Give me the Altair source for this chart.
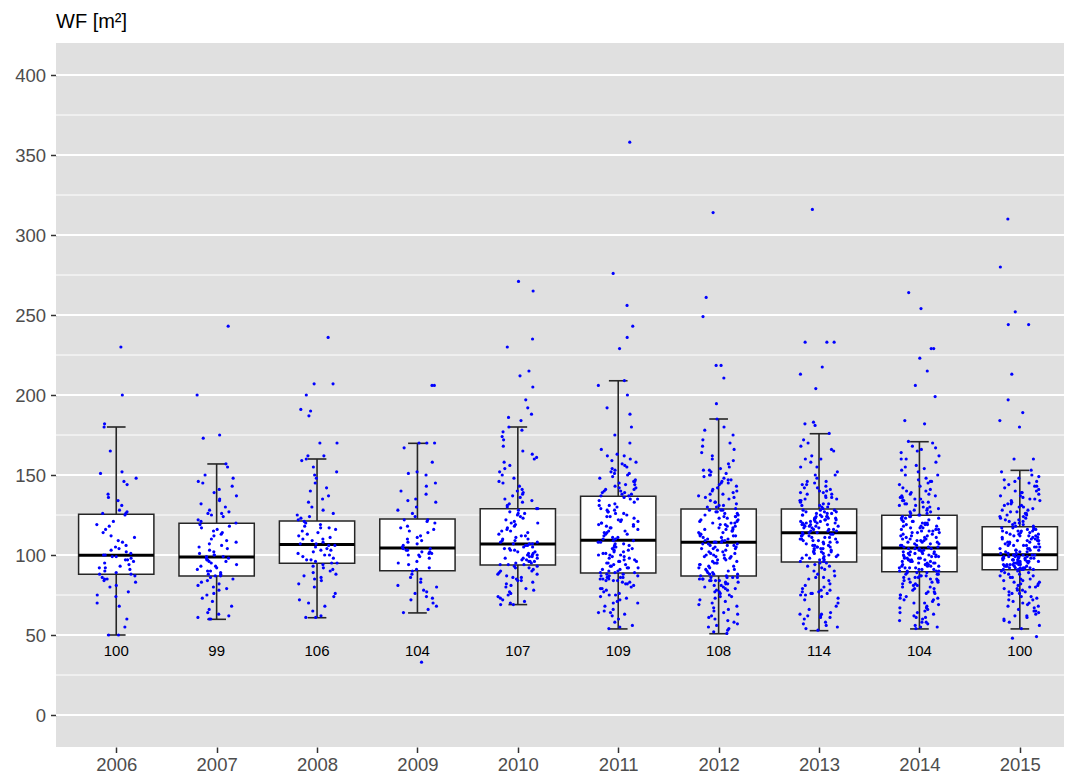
import altair as alt
import pandas as pd

# ---------------- data ----------------
years = [2006, 2007, 2008, 2009, 2010, 2011, 2012, 2013, 2014, 2015]

# box statistics (ggplot style: whiskers = furthest points inside 1.5 IQR)
box_q1 = [87.9, 86.9, 94.8, 90.2, 93.8, 88.8, 86.9, 95.6, 89.6, 90.8]
box_median = [99.8, 98.8, 106.5, 104.4, 106.9, 109.2, 107.9, 113.9, 104.4, 100.2]
box_q3 = [125.4, 119.8, 121.3, 122.5, 128.9, 136.7, 128.8, 128.8, 124.8, 117.7]
whisker_low = [50, 59.8, 60.8, 63.8, 69, 53.8, 50.8, 52.7, 53.8, 53.8]
whisker_high = [180, 156.9, 160, 169.8, 180, 208.9, 185, 175.8, 170.8, 152.9]
median_labels = ["100", "99", "106", "104", "107", "109", "108", "114", "104", "100"]

minor_grid = [25, 75, 125, 175, 225, 275, 325, 375]
major_grid = [0, 50, 100, 150, 200, 250, 300, 350, 400]

wf_2006 = [230, 200, 182, 180, 165, 152, 151, 148, 146, 144, 138, 136, 134, 131, 128, 127, 126, 126,
           125, 121, 119, 118, 116, 114, 112, 111, 109, 108, 106, 105, 104, 103, 102, 101, 100, 100,
           99, 99, 98, 97, 97, 96, 95, 94, 93, 92, 92, 91, 90, 89, 88, 88,
           87, 86, 85, 85, 84, 83, 81, 80, 77, 75, 74, 70, 68, 60, 55, 50, 50]
wf_2007 = [243, 200, 175, 173, 157, 155, 150, 148, 146, 145, 143, 141, 139, 137, 135, 134, 132, 130,
           128, 127, 126, 126, 125, 124, 122, 121, 120, 119, 118, 117, 116, 115, 114, 113, 112, 110,
           109, 108, 107, 106, 105, 104, 103, 102, 101, 100, 100, 99, 99, 98, 98, 97, 97, 96, 96, 95,
           94, 93, 93, 92, 91, 90, 90, 89, 88, 88, 87, 87, 86, 85, 84, 83, 82, 81, 80, 79, 78, 76, 75,
           73, 71, 68, 66, 64, 63, 62, 61, 60, 60]
wf_2008 = [236, 207, 207, 200, 191, 190, 187, 170, 170, 162, 162, 160, 159, 155, 152, 150, 148, 145,
           142, 140, 137, 135, 133, 130, 128, 126, 125, 124, 123, 122, 121, 120, 119, 118, 117, 117,
           116, 115, 114, 113, 112, 111, 110, 110, 109, 108, 107, 107, 106, 106, 105, 104, 103, 103,
           102, 101, 100, 100, 99, 98, 97, 97, 96, 95, 95, 94, 93, 92, 91, 90, 89, 88, 87, 86, 85, 84,
           82, 80, 76, 74, 72, 70, 68, 65, 62, 61, 61]
wf_2009 = [206, 206, 170, 170, 170, 167, 158, 152, 151, 150, 145, 143, 140, 138, 135, 134, 133, 130,
           128, 126, 124, 122, 122, 121, 120, 118, 117, 116, 115, 114, 112, 111, 110, 109, 108, 107,
           106, 105, 104, 104, 103, 103, 102, 102, 101, 101, 100, 100, 99, 98, 96, 95, 94, 92, 91, 90,
           88, 86, 85, 83, 81, 80, 78, 77, 76, 74, 73, 72, 70, 68, 66, 64, 33]
wf_2010 = [271, 265, 235, 230, 215, 212, 205, 197, 192, 188, 186, 184,
           180, 178, 177, 174, 172, 168, 165, 163, 161, 160, 158, 156, 154, 152, 150, 148, 146, 145,
           143, 141, 140, 139, 138, 137, 136, 135, 134, 133, 132, 131, 130, 129,
           129, 128, 127, 126, 126, 125, 124, 123, 122, 121, 120, 120, 119, 118, 117, 116, 115, 115,
           114, 113, 112, 112, 111, 110, 110, 109, 109, 108, 108, 107, 107,
           107, 106, 106, 105, 105, 104, 104, 103, 103, 102, 102, 101, 101, 100, 100, 100, 99, 99, 98,
           98, 98, 97, 97, 96, 96, 96, 95, 95, 94, 94, 94,
           93, 93, 92, 92, 91, 90, 90, 89, 88, 88, 87, 86, 86, 85, 84, 84, 83, 82, 81, 80, 79, 78, 77,
           76, 75, 74, 73, 72, 71, 70, 69, 69]
wf_2011 = [358, 276, 256, 243, 236, 229,
           209, 206, 200, 192, 188, 180, 175, 170, 166, 163, 162, 160, 159, 158, 156, 155, 154, 153,
           152, 151, 150, 149, 148, 147, 146, 145, 144, 143, 142, 142, 141, 140, 140, 139, 139, 138,
           138, 137, 137, 162, 157, 151, 146, 144, 141,
           136, 135, 134, 133, 132, 131, 130, 129, 128, 127, 126, 125, 124, 123, 122, 121, 120, 119,
           118, 117, 116, 115, 114, 113, 112, 111, 110, 109, 135, 131, 127, 124, 121, 119, 117, 115,
           113, 111, 128, 122, 118, 114, 110, 126, 120,
           109, 108, 107, 106, 105, 104, 103, 102, 101, 100, 99, 98, 97, 96, 95, 94, 93, 92, 91, 90,
           89, 108, 106, 104, 102, 100, 98, 96, 94, 92, 90, 107, 103, 99, 95, 91, 89, 105, 101, 97,
           93, 89, 100, 96, 92,
           88, 88, 87, 87, 86, 86, 86, 85, 85, 85, 84, 84, 83, 83, 82, 81, 80, 79, 78, 77, 76, 75, 74,
           73, 72, 71, 70, 68, 66, 65, 64, 63, 62, 60, 58, 56, 55, 54, 87, 86, 84, 82, 79, 75, 70, 64]
wf_2012 = [314, 261, 249, 218.5, 218.5, 210.6, 194.6,
           86, 85, 84, 86, 83, 82, 85, 80, 78, 84, 76, 73, 81, 70, 68, 79, 65, 63, 77, 60, 58, 74, 55,
           52, 51, 86, 84, 82, 80, 75, 71, 67, 62, 57, 53, 85, 83, 79, 72, 66, 61, 56, 86, 81, 77, 69,
           64, 59, 54, 84, 78, 74,
           87, 88, 90, 92, 95, 97, 99, 101, 103, 105, 107, 108, 89, 91, 94, 96, 98, 100, 102, 104, 106,
           88, 90, 93, 95, 97, 99, 100, 102, 104, 106, 107, 87, 89, 92, 94, 96, 98, 101, 103, 105, 107,
           88, 91, 93, 95, 99, 100, 104, 106,
           108, 109, 110, 112, 114, 116, 118, 120, 122, 124, 126, 128, 109, 111, 113, 115, 117, 119,
           121, 123, 125, 127, 110, 112, 114, 116, 118, 120, 122, 124, 126, 128, 108, 111, 113, 115,
           117, 119, 121, 123, 125, 127, 109, 112, 116, 120, 124, 128,
           129, 130, 131, 132, 133, 134, 135, 136, 137, 138, 139, 140, 141, 142, 143, 144, 145, 146,
           147, 148, 149, 150, 151, 152, 153, 154, 155, 157, 159, 160, 162, 164, 166, 168, 170, 172,
           175, 178, 180, 185, 130, 133, 136, 140, 145, 150, 131, 138, 147, 153]
wf_2013 = [316, 233, 233, 233, 217.5, 213, 204, 183, 182, 181,
           95, 94, 93, 92, 91, 90, 88, 87, 86, 85, 84, 82, 80, 79, 78, 77, 77, 76, 76, 75, 75, 74, 73,
           72, 70, 68, 66, 64, 63, 62, 62, 61, 60, 58, 56, 55, 54, 53, 95, 93, 90, 86, 81, 78, 76, 63,
           61, 57,
           96, 97, 98, 99, 100, 101, 102, 103, 104, 105, 106, 107, 108, 109, 110, 111, 112, 113, 114,
           96, 98, 100, 102, 104, 106, 108, 110, 112, 113, 97, 99, 101, 103, 105, 107, 109, 111, 113,
           100, 104, 108, 111, 112, 98, 102, 106, 110, 114, 105, 109,
           114, 115, 116, 117, 118, 119, 120, 121, 122, 123, 124, 125, 126, 127, 128, 115, 116, 117,
           118, 119, 120, 121, 122, 123, 124, 125, 126, 127, 128, 116, 118, 120, 122, 124, 126, 128,
           115, 117, 119, 121, 123, 125, 127, 119, 121, 123, 120, 122, 118, 124,
           129, 130, 131, 132, 133, 134, 135, 136, 137, 138, 139, 140, 141, 142, 143, 144, 145, 146,
           148, 150, 152, 155, 158, 160, 162, 165, 168, 170, 172, 176, 130, 132, 134, 136, 138, 140,
           142, 146, 150, 155, 160, 166, 131, 135, 139, 144]
wf_2014 = [264, 254, 229, 229, 223, 215, 206, 199, 184, 182,
           89, 88, 87, 86, 85, 84, 83, 82, 81, 80, 79, 78, 77, 76, 75, 74, 73, 72, 71, 70, 69, 68, 67,
           66, 65, 64, 63, 62, 61, 60, 59, 58, 57, 56, 55, 54, 89, 87, 85, 83, 81, 79, 77, 75, 73, 70,
           67, 64, 61, 58, 55, 88, 86, 84, 82, 80, 76, 72, 89, 88, 86, 85, 84, 83, 87,
           90, 91, 92, 93, 94, 95, 96, 97, 98, 99, 100, 101, 102, 103, 104, 90, 91, 92, 93, 94, 95, 96,
           97, 98, 99, 100, 101, 102, 103, 104, 90, 92, 94, 96, 98, 100, 102, 104, 91, 93, 95, 97, 99,
           101, 103, 90, 93, 96, 99, 102, 92, 95, 98, 101, 104, 94, 97, 100,
           105, 106, 107, 108, 109, 110, 111, 112, 113, 114, 115, 116, 117, 118, 119, 120, 121, 122,
           123, 124, 105, 107, 109, 111, 113, 115, 117, 119, 121, 123, 106, 108, 110, 112, 114, 116,
           118, 120, 122, 124, 105, 108, 111, 114, 117, 120, 123, 106, 110, 115, 119, 124, 107, 112,
           118, 121, 109, 116,
           125, 126, 127, 128, 129, 130, 131, 132, 133, 134, 135, 136, 137, 138, 139, 140, 142, 144,
           146, 148, 150, 152, 154, 156, 158, 160, 162, 164, 166, 168, 170, 171, 125, 127, 129, 131,
           133, 135, 137, 140, 143, 146, 150, 155, 160, 165, 126, 128, 132, 136, 141, 147, 153, 167,
           130, 134, 138, 145]
wf_2015 = [310, 280, 252, 244, 244, 213, 197, 189, 184, 180, 160, 160, 48, 49,
           90, 89, 88, 87, 86, 85, 84, 83, 82, 81, 80, 79, 78, 77, 76, 75, 74, 73, 72, 71, 70, 69, 68,
           67, 66, 65, 64, 63, 62, 61, 60, 58, 56, 54, 90, 88, 86, 84, 82, 80, 78, 76, 74, 72, 70, 68,
           65, 62, 59, 89, 87, 85, 83, 81, 79, 77,
           91, 92, 93, 94, 95, 96, 97, 98, 99, 100, 91, 92, 93, 94, 95, 96, 97, 98, 99, 100, 91, 92,
           93, 94, 95, 96, 97, 98, 99, 100, 91, 93, 95, 97, 99, 92, 94, 96, 98, 100, 91, 92, 94, 95,
           97, 98, 99, 93, 96, 100, 92, 95, 98, 94, 97, 99,
           101, 102, 103, 104, 105, 106, 107, 108, 109, 110, 111, 112, 113, 114, 115, 116, 117, 101,
           102, 103, 104, 105, 106, 107, 108, 109, 110, 111, 112, 113, 114, 115, 116, 117, 101, 103,
           105, 107, 109, 111, 113, 115, 117, 102, 104, 106, 108, 110, 112, 114, 116, 103, 106, 109,
           112, 115,
           118, 119, 120, 121, 122, 123, 124, 125, 126, 127, 128, 129, 130, 131, 132, 133, 134, 135,
           136, 137, 138, 139, 140, 141, 142, 143, 144, 145, 146, 147, 148, 150, 152, 153, 118, 120,
           122, 124, 126, 128, 130, 132, 134, 137, 140, 143, 146, 149, 119, 123, 127, 131, 135, 139,
           121, 125]

# ---------------- tables ----------------
wf_by_year = [wf_2006, wf_2007, wf_2008, wf_2009, wf_2010,
              wf_2011, wf_2012, wf_2013, wf_2014, wf_2015]
rows = []
for yr, vals in zip(years, wf_by_year):
    for v in vals:
        rows.append({"year": yr, "wf": v})
points_df = pd.DataFrame(rows)
points_df["idx"] = range(len(points_df))

box_df = pd.DataFrame({
    "year": years, "q1": box_q1, "med": box_median, "q3": box_q3,
    "lo": whisker_low, "hi": whisker_high, "label": median_labels,
})
minor_df = pd.DataFrame({"v": minor_grid})
major_df = pd.DataFrame({"v": major_grid})

# ---------------- scales / axes ----------------
FONT = "Liberation Sans"
x_scale = alt.Scale(domain=[2005.4, 2015.44], nice=False, zero=False)
y_scale = alt.Scale(domain=[-20, 420], nice=False, zero=False)
x_axis = alt.Axis(values=years, format="d", grid=False, domain=False, tickSize=5.5,
                  tickWidth=1.5, tickColor="#333333", labelFontSize=18.5, labelColor="#4D4D4D",
                  labelFont=FONT, labelPadding=3, labelFlush=False, labelOverlap=False, title=None)
y_axis = alt.Axis(values=major_grid, grid=False, domain=False, tickSize=5.5, tickWidth=1.5,
                  tickColor="#333333", labelFontSize=18.5, labelColor="#4D4D4D", labelFont=FONT,
                  labelPadding=5, labelFlush=False, labelOverlap=False, title=None)


def X(field):
    return alt.X(field, type="quantitative", scale=x_scale, axis=x_axis, title=None)


def Y(field):
    return alt.Y(field, type="quantitative", scale=y_scale, axis=y_axis, title=None)


BOXCOL = "#262626"

minor = alt.Chart(minor_df).mark_rule(color="white", strokeWidth=1).encode(y=Y("v"))
major = alt.Chart(major_df).mark_rule(color="white", strokeWidth=2).encode(y=Y("v"))

base_box = alt.Chart(box_df).transform_calculate(
    x0="datum.year - 0.375", x1="datum.year + 0.375",
    c0="datum.year - 0.093", c1="datum.year + 0.093", ly="40")

whisk_hi = base_box.mark_rule(color=BOXCOL, strokeWidth=1.6).encode(x=X("year"), y=Y("q3"), y2="hi")
whisk_lo = base_box.mark_rule(color=BOXCOL, strokeWidth=1.6).encode(x=X("year"), y=Y("q1"), y2="lo")
cap_hi = base_box.mark_rule(color=BOXCOL, strokeWidth=1.6).encode(x=X("c0"), x2="c1", y=Y("hi"))
cap_lo = base_box.mark_rule(color=BOXCOL, strokeWidth=1.6).encode(x=X("c0"), x2="c1", y=Y("lo"))
boxes = base_box.mark_rect(fill="white", stroke=BOXCOL, strokeWidth=1.5).encode(
    x=X("x0"), x2="x1", y=Y("q1"), y2="q3")
medians = base_box.mark_rule(color="black", strokeWidth=3).encode(x=X("x0"), x2="x1", y=Y("med"))

pts = alt.Chart(points_df).transform_calculate(
    jx="datum.year + 0.4 * ((abs(sin(datum.idx * 12.9898 + 4.1) * 43758.5453) % 1) - 0.5)"
).mark_circle(color="#0000FF", size=10, opacity=1).encode(x=X("jx"), y=Y("wf"))

labels = base_box.mark_text(fontSize=15, font=FONT, color="black", align="center",
                            baseline="middle").encode(x=X("year"), y=Y("ly"), text="label:N")

chart = alt.layer(minor, major, whisk_hi, whisk_lo, cap_hi, cap_lo, boxes, medians, pts, labels).properties(
    width=1008, height=704,
    autosize=alt.AutoSizeParams(type="none"),
    padding={"left": 48, "top": 35, "right": 0, "bottom": 27},
    title=alt.TitleParams(text="WF [m²]", anchor="start", fontSize=20, fontWeight="normal",
                          font=FONT, color="black", offset=-4.5, baseline="alphabetic", frame="group"),
).configure(
    font=FONT, background="white",
    view=alt.ViewConfig(fill="#E0E0E0", stroke=None),
)

chart.save("out.html", embed_options={"renderer": "svg", "actions": False})
